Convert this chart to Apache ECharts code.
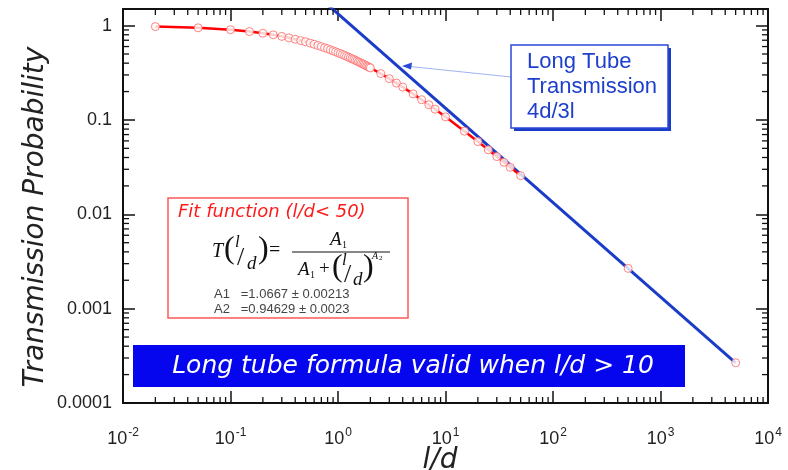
<!DOCTYPE html>
<html>
<head>
<meta charset="utf-8">
<script src="https://cdn.jsdelivr.net/npm/echarts@6/dist/echarts.min.js"></script>
<style>
  html, body { margin: 0; padding: 0; background: #fff; }
  #chart { width: 788px; height: 470px; }
</style>
</head>
<body>
<div id="chart"></div>
<script>
// measured transmission probability vs l/d
const ldValues = [0.02, 0.05, 0.1, 0.15, 0.2, 0.25, 0.3, 0.35, 0.4, 0.45,
  0.5, 0.55, 0.6, 0.65, 0.7, 0.75, 0.8, 0.85, 0.9, 0.95,
  1.0, 1.05, 1.1, 1.15, 1.2, 1.25, 1.3, 1.35, 1.4, 1.45,
  1.5, 1.55, 1.6, 1.65, 1.7, 1.75, 1.8, 1.85, 1.9, 1.95, 2.0,
  2.5, 3, 3.5, 4, 5, 6, 7, 8, 10, 15, 20, 25, 30, 35, 40, 50, 500, 5000]
const tValues = [0.977, 0.948, 0.904, 0.865, 0.830, 0.798, 0.769, 0.742, 0.717, 0.694,
  0.673, 0.653, 0.634, 0.616, 0.599, 0.583, 0.569, 0.554, 0.541, 0.528,
  0.516, 0.505, 0.494, 0.483, 0.473, 0.463, 0.454, 0.445, 0.437, 0.429,
  0.421, 0.413, 0.406, 0.399, 0.392, 0.386, 0.380, 0.373, 0.368, 0.362, 0.356,
  0.310, 0.274, 0.246, 0.223, 0.189, 0.164, 0.145, 0.130, 0.108, 0.0760, 0.0590,
  0.0483, 0.0409, 0.0356, 0.0315, 0.0257, 0.00267, 0.000267]
// the red fit curve only runs up to l/d = 50
const fitLimit = 50

// long tube line 4d/3l (end points)
const longTubeLd = [0.8, 5000]
const longTubeT = [1.667, 0.000267]

// axes (log10 space)
const xMinExp = -2, xMaxExp = 4
const yMinExp = -4, yMaxVal = 1.5
const yTickLabels = { '-4': '0.0001', '-3': '0.001', '-2': '0.01', '-1': '0.1', '0': '1' }
const minorSteps = [2, 3, 4, 5, 6, 7, 8, 9]

const lg = Math.log10
const yMaxExp = lg(yMaxVal)

// minor tick positions, one item per tick: [x, y, kind]
const minorTicks = []
for (let e = xMinExp; e < xMaxExp; e++) {
  minorSteps.forEach(k => minorTicks.push([e + lg(k), yMinExp, 0]))
}
for (let e = yMinExp; e <= 0; e++) {
  minorSteps.forEach(k => {
    if (e + lg(k) < yMaxExp) minorTicks.push([xMinExp, e + lg(k), 1])
  })
}

const points = ldValues.map((v, i) => [lg(v), lg(tValues[i])])
const fitPoints = points.filter((p, i) => ldValues[i] <= fitLimit)
const longTube = longTubeLd.map((v, i) => [lg(v), lg(longTubeT[i])])

const black = '#111'
const labelFont = 'Liberation Sans, Arial, sans-serif'
const comic = '"Comic Sans MS", "DejaVu Sans", sans-serif'
const serif = '"Liberation Serif", "Times New Roman", serif'

function baseX(pos, show) {
  return {
    type: 'value', position: pos, min: xMinExp, max: xMaxExp, interval: 1,
    axisLine: { show: true, onZero: false, lineStyle: { color: black, width: 2 } },
    axisTick: { show: true, inside: true, length: 12, lineStyle: { color: black, width: 1.5 } },
    splitLine: { show: false },
    axisLabel: show ? {
      margin: 24,
      color: '#222',
      formatter: v => '{b|10}{s|' + v + '}',
      rich: {
        b: { fontSize: 18, fontFamily: labelFont, color: '#222' },
        s: { fontSize: 12, fontFamily: labelFont, color: '#222', padding: [0, 0, 12, 1] }
      }
    } : { show: false }
  }
}
function baseY(pos, show) {
  return {
    type: 'value', position: pos, min: yMinExp, max: yMaxExp, interval: 1,
    axisLine: { show: true, onZero: false, lineStyle: { color: black, width: 2 } },
    axisTick: { show: true, inside: true, length: 12, lineStyle: { color: black, width: 1.5 } },
    splitLine: { show: false },
    axisLabel: show ? {
      margin: 11,
      fontSize: 18,
      fontFamily: labelFont,
      color: '#222',
      showMaxLabel: false,
      formatter: v => yTickLabels[String(Math.round(v))] !== undefined && Math.abs(v - Math.round(v)) < 1e-9 ? yTickLabels[String(Math.round(v))] : ''
    } : { show: false }
  }
}

function renderMinor(params, api) {
  const kind = api.value(2)
  const len = 6
  const style = { stroke: black, lineWidth: 1.3 }
  if (kind === 0) {
    const x = api.value(0)
    const b = api.coord([x, yMinExp])
    const t = api.coord([x, yMaxExp])
    return { type: 'group', children: [
      { type: 'line', shape: { x1: b[0], y1: b[1], x2: b[0], y2: b[1] - len }, style },
      { type: 'line', shape: { x1: t[0], y1: t[1], x2: t[0], y2: t[1] + len }, style }
    ] }
  }
  const y = api.value(1)
  const l = api.coord([xMinExp, y])
  const r = api.coord([xMaxExp, y])
  return { type: 'group', children: [
    { type: 'line', shape: { x1: l[0], y1: l[1], x2: l[0] + len, y2: l[1] }, style },
    { type: 'line', shape: { x1: r[0], y1: r[1], x2: r[0] - len, y2: r[1] }, style }
  ] }
}

function txt(x, y, text, size, extra) {
  return {
    type: 'text', x, y, z: 20,
    style: Object.assign({ text, fontSize: size, fontFamily: serif, fill: '#111',
      textAlign: 'left', textVerticalAlign: 'middle' }, extra || {})
  }
}

const graphics = [
  // axis titles
  { type: 'text', x: 36, y: 217, rotation: Math.PI / 2, z: 20,
    style: { text: 'Transmission Probability', fontSize: 28, fontStyle: 'italic', fontFamily: comic,
      fill: '#222', textAlign: 'center', textVerticalAlign: 'middle' } },
  { type: 'text', x: 440, y: 461, z: 20,
    style: { text: 'l/d', fontSize: 28, fontStyle: 'italic', fontFamily: comic,
      fill: '#222', textAlign: 'center', textVerticalAlign: 'middle' } },

  // long tube callout
  { type: 'rect', shape: { x: 514, y: 48, width: 157, height: 83 }, z: 18, style: { fill: '#1a3cc8' } },
  { type: 'rect', shape: { x: 511, y: 45, width: 157, height: 83 }, z: 19,
    style: { fill: '#fff', stroke: '#2a4ad8', lineWidth: 1.5 } },
  { type: 'text', x: 527, y: 87, z: 20,
    style: { text: 'Long Tube\nTransmission\n4d/3l', fontSize: 22, lineHeight: 25, fontFamily: labelFont,
      fill: '#1d3fcc', textAlign: 'left', textVerticalAlign: 'middle' } },
  { type: 'line', shape: { x1: 511, y1: 77, x2: 410, y2: 66.5 }, z: 18,
    style: { stroke: '#9fb3f0', lineWidth: 1 } },
  { type: 'polygon', shape: { points: [[402, 66], [412, 62.5], [411, 69.5]] }, z: 18,
    style: { fill: '#2a4ad8' } },

  // fit function box
  { type: 'rect', shape: { x: 168, y: 198, width: 240, height: 120 }, z: 15,
    style: { fill: '#fff', stroke: '#ff5a5a', lineWidth: 1.5 } },
  { type: 'text', x: 178, y: 212, z: 20,
    style: { text: 'Fit function (l/d< 50)', fontSize: 18, fontStyle: 'italic', fontFamily: comic,
      fill: '#ff1a1a', textAlign: 'left', textVerticalAlign: 'middle' } },
  txt(212, 252, 'T', 20, { fontStyle: 'italic' }),
  txt(224, 250, '(', 32),
  txt(235, 243, 'l', 17, { fontStyle: 'italic' }),
  txt(237, 258, '/', 26),
  txt(247, 264, 'd', 19, { fontStyle: 'italic' }),
  txt(258, 250, ')', 32),
  txt(269, 251, '=', 20),
  txt(330, 240, 'A', 19, { fontStyle: 'italic' }),
  txt(342, 245, '1', 10),
  { type: 'line', shape: { x1: 292, y1: 252, x2: 390, y2: 252 }, z: 20, style: { stroke: '#111', lineWidth: 1 } },
  txt(298, 270, 'A', 19, { fontStyle: 'italic' }),
  txt(310, 275, '1', 10),
  txt(319, 269, '+', 19),
  txt(332, 268, '(', 32),
  txt(342, 261, 'l', 17, { fontStyle: 'italic' }),
  txt(344, 275, '/', 26),
  txt(353, 280, 'd', 19, { fontStyle: 'italic' }),
  txt(363, 268, ')', 32),
  txt(372, 256, 'A', 10, { fontStyle: 'italic' }),
  txt(379, 258, '2', 7),
  { type: 'text', x: 214, y: 287, z: 20,
    style: { text: 'A1   =1.0667 ± 0.00213\nA2   =0.94629 ± 0.0023', fontSize: 13, lineHeight: 15,
      fontFamily: labelFont, fill: '#444', textAlign: 'left', textVerticalAlign: 'top' } },

  // banner
  { type: 'rect', shape: { x: 133, y: 345, width: 552, height: 42 }, z: 15, style: { fill: '#0505ee' } },
  { type: 'text', x: 413, y: 366, z: 20,
    style: { text: 'Long tube formula valid when l/d > 10', fontSize: 25, fontStyle: 'italic', fontFamily: comic,
      fill: '#fff', textAlign: 'center', textVerticalAlign: 'middle' } }
]

const chart = echarts.init(document.getElementById('chart'), null, { renderer: 'canvas' })
chart.setOption({
  animation: false,
  backgroundColor: '#fff',
  grid: { left: 123, right: 20, top: 9, bottom: 67 },
  xAxis: [baseX('bottom', true), baseX('top', false)],
  yAxis: [baseY('left', true), baseY('right', false)],
  graphic: graphics,
  series: [
    {
      name: 'minor ticks', type: 'custom', renderItem: renderMinor, data: minorTicks,
      clip: false, silent: true, z: 5
    },
    {
      name: '4d/3l', type: 'line', data: longTube, showSymbol: false, z: 3,
      lineStyle: { color: '#1a3cc8', width: 3 }
    },
    {
      name: 'fit', type: 'line', data: fitPoints, showSymbol: false, z: 4,
      lineStyle: { color: '#ff0000', width: 2.5 }
    },
    {
      name: 'data', type: 'scatter', data: points, symbol: 'circle', symbolSize: 8, z: 6,
      itemStyle: { color: '#fff', borderColor: '#ff6464', borderWidth: 1 }
    }
  ]
})
</script>
</body>
</html>
